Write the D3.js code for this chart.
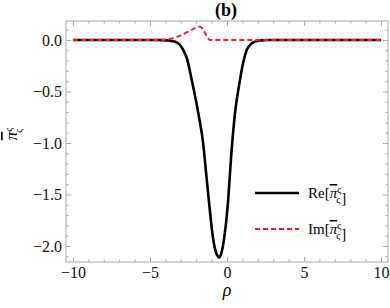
<!DOCTYPE html>
<html>
<head>
<meta charset="utf-8">
<script src="https://cdn.jsdelivr.net/npm/d3@7"></script>
<style>
body { margin: 0; background: #fff; }
svg { display: block; }
.axis path, .axis line { stroke: #aaa; }
</style>
</head>
<body>
<svg id="svg1" width="390" height="308"></svg>
<script>
// values
var reRho = [-10, -5, -4.2, -3.8, -3.4, -3.1, -2.84, -2.6, -2.3, -2.0, -1.85, -1.55, -1.35, -1.15, -0.9, -0.7, -0.5, -0.35, -0.2, 0.05, 0.3, 0.52, 0.84, 1.05, 1.28, 1.55, 1.82, 2.2, 2.6, 5, 10];
var reVal = [0, 0, -0.002, -0.006, -0.016, -0.04, -0.097, -0.18, -0.38, -0.6, -0.72, -1.0, -1.3, -1.6, -1.93, -2.07, -2.11, -2.06, -1.94, -1.6, -1.07, -0.71, -0.39, -0.22, -0.097, -0.04, -0.016, -0.004, 0, 0, 0];

var imRho = [-10, -4.5, -4.0, -3.5, -3.0, -2.6, -2.2, -1.9, -1.75, -1.6, -1.4, -1.25, -1.15, -1.05, 0, 10];
var imVal = [0, 0, 0.004, 0.016, 0.045, 0.075, 0.105, 0.127, 0.128, 0.11, 0.06, 0.02, 0.002, 0, 0, 0];

var xMajor = [-10, -5, 0, 5, 10];
var yMajor = [0, -0.5, -1, -1.5, -2];

var serif = "'Liberation Serif', 'Times New Roman', serif";
var mLeft = 66, mRight = 388, mTop = 21, mBottom = 262;

var svg = d3.select('svg');

var x = d3.scaleLinear().domain([-10.45, 10.45]).range([mLeft, mRight]);
var y = d3.scaleLinear().domain([0.184, -2.155]).range([mTop, mBottom]);

var xMinor = d3.range(-10, 11, 1).filter(function(v){ return xMajor.indexOf(v) < 0; });
var yMinor = d3.range(-21, 2, 1).map(function(v){ return v / 10; })
    .filter(function(v){ return yMajor.indexOf(v) < 0; });

function addAxis(axis, tx, ty) {
    var g = svg.append('g').attr('class', 'axis')
        .attr('transform', 'translate(' + tx + ',' + ty + ')')
        .call(axis)
        .attr('font-family', null)
        .attr('font-size', null);
    g.select('.domain').remove();
    g.selectAll('text')
        .style('font-family', serif)
        .style('font-size', '16px')
        .attr('fill', '#111');
    return g;
}

// major ticks with labels
addAxis(d3.axisBottom(x).tickValues(xMajor).tickSize(-5).tickPadding(5).tickFormat(d3.format('d')), 0, mBottom);
addAxis(d3.axisLeft(y).tickValues(yMajor).tickSize(-5).tickPadding(4).tickFormat(d3.format('.1f')), mLeft, 0);
// no labels on top and right
addAxis(d3.axisTop(x).tickValues(xMajor).tickSize(-5).tickFormat(''), 0, mTop);
addAxis(d3.axisRight(y).tickValues(yMajor).tickSize(-5).tickFormat(''), mRight, 0);
// minor ticks
addAxis(d3.axisBottom(x).tickValues(xMinor).tickSize(-2.5).tickFormat(''), 0, mBottom);
addAxis(d3.axisTop(x).tickValues(xMinor).tickSize(-2.5).tickFormat(''), 0, mTop);
addAxis(d3.axisLeft(y).tickValues(yMinor).tickSize(-2.5).tickFormat(''), mLeft, 0);
addAxis(d3.axisRight(y).tickValues(yMinor).tickSize(-2.5).tickFormat(''), mRight, 0);

// frame
svg.append('rect')
    .attr('x', mLeft).attr('y', mTop)
    .attr('width', mRight - mLeft).attr('height', mBottom - mTop)
    .attr('fill', 'none').attr('stroke', '#aaa').attr('stroke-width', 1);

var line = d3.line()
    .x(function(d){ return x(d[0]); })
    .y(function(d){ return y(d[1]); })
    .curve(d3.curveMonotoneX);

svg.append('path')
    .datum(d3.zip(reRho, reVal))
    .attr('d', line)
    .attr('fill', 'none')
    .attr('stroke', 'black')
    .attr('stroke-width', 2.6);

svg.append('path')
    .datum(d3.zip(imRho, imVal))
    .attr('d', line)
    .attr('fill', 'none')
    .attr('stroke', '#ff1a1a')
    .attr('stroke-width', 2)
    .attr('stroke-dasharray', '5,3');

// title
svg.append('text')
    .attr('x', 226).attr('y', 16)
    .attr('text-anchor', 'middle')
    .style('font-family', serif)
    .style('font-size', '18px')
    .style('font-weight', 'bold')
    .text('(b)');

// x label
svg.append('text')
    .attr('x', 227).attr('y', 296)
    .attr('text-anchor', 'middle')
    .style('font-family', serif)
    .style('font-size', '18px')
    .style('font-style', 'italic')
    .text('ρ');

// pi-bar with sub/superscript varsigma
function piLabel(t) {
    t.append('tspan').style('font-style', 'italic').style('text-decoration', 'overline').text('π');
    t.append('tspan').attr('dy', -5).style('font-size', '10px').text('ς');
    t.append('tspan').attr('dx', -5).attr('dy', 10).style('font-size', '10px').text('ς');
    t.append('tspan').attr('dy', -5).text('');
}

var yl = svg.append('text')
    .attr('transform', 'translate(17,134) rotate(-90)')
    .attr('text-anchor', 'middle')
    .style('font-family', serif)
    .style('font-size', '17px');
piLabel(yl);

// legend
var legend = [
    {name: 'Re', color: 'black', width: 2.6, dash: null, y: 193},
    {name: 'Im', color: '#ff1a1a', width: 2, dash: '5,3', y: 229}
];

legend.forEach(function(d){
    svg.append('line')
        .attr('x1', 255).attr('x2', 299)
        .attr('y1', d.y).attr('y2', d.y)
        .attr('stroke', d.color)
        .attr('stroke-width', d.width)
        .attr('stroke-dasharray', d.dash);
    var t = svg.append('text')
        .attr('x', 308).attr('y', d.y + 5)
        .style('font-family', serif)
        .style('font-size', '15px');
    t.append('tspan').text(d.name + '[');
    piLabel(t);
    t.append('tspan').attr('dx', 1).text(']');
});
</script>
</body>
</html>
